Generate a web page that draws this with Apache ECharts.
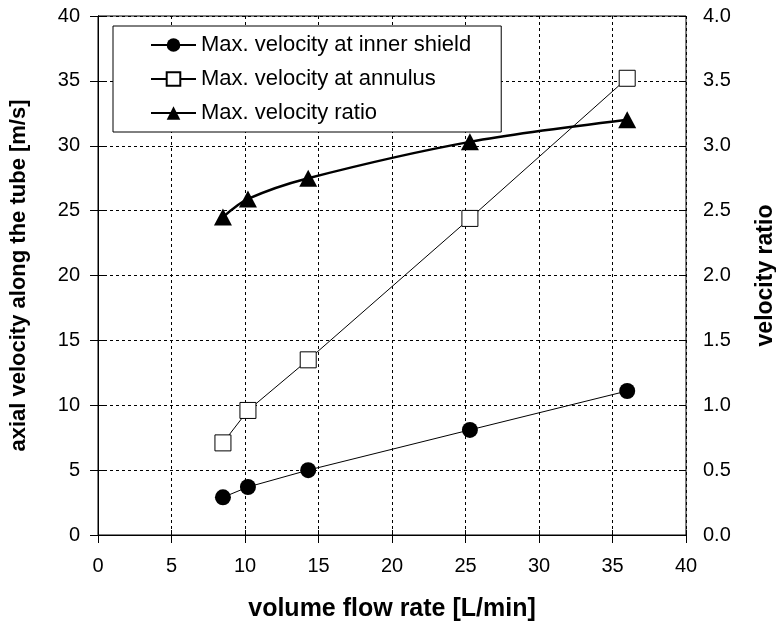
<!DOCTYPE html>
<html>
<head>
<meta charset="utf-8">
<script src="https://cdn.jsdelivr.net/npm/echarts@6/dist/echarts.min.js"></script>
<style>
html,body{margin:0;padding:0;background:#fff;}
#chart{width:776px;height:629px;}
</style>
</head>
<body>
<div id="chart"></div>
<script>
var flowRate = [8.5, 10.2, 14.3, 25.3, 36.0];
var innerShield = [2.9, 3.7, 5.0, 8.1, 11.1];
var annulus = [7.1, 9.6, 13.5, 24.4, 35.2];
var ratio = [2.45, 2.59, 2.75, 3.03, 3.2];
var seriesNames = ['Max. velocity at inner shield', 'Max. velocity at annulus', 'Max. velocity ratio'];
var xTitle = 'volume flow rate [L/min]';
var yLeftTitle = 'axial velocity along the tube [m/s]';
var yRightTitle = 'velocity ratio';

function pairs(xs, ys) { return xs.map(function (x, i) { return [x, ys[i]]; }); }

var FONT = 'Arial, "Liberation Sans", sans-serif';
var chart = echarts.init(document.getElementById('chart'), null, {renderer: 'canvas'});
var dashed = {show: true, lineStyle: {color: '#000', width: 1, type: [3, 3]}};
var axisLineStyle = {show: true, lineStyle: {color: '#000', width: 1}};
chart.setOption({
  backgroundColor: '#fff',
  animation: false,
  grid: {left: 98, right: 90, top: 16, bottom: 94, outerBoundsMode: 'none', containLabel: false,
    show: true, borderColor: '#000', borderWidth: 1, backgroundColor: 'transparent'},
  legend: {
    orient: 'vertical', left: 113, top: 26,
    backgroundColor: '#fff', borderColor: '#000', borderWidth: 1,
    padding: [8, 30, 8, 37], itemGap: 12, itemWidth: 45, itemHeight: 17,
    textStyle: {fontFamily: FONT, fontSize: 22, color: '#000'},
    data: seriesNames
  },
  xAxis: [{
    type: 'value', min: 0, max: 40, interval: 5,
    axisLine: axisLineStyle,
    axisTick: {show: true, inside: false, length: 8, lineStyle: {color: '#000'}},
    axisLabel: {fontFamily: FONT, fontSize: 20, color: '#000', margin: 21},
    splitLine: dashed,
    name: xTitle, nameLocation: 'middle', nameGap: 62,
    nameTextStyle: {fontFamily: FONT, fontSize: 25, fontWeight: 'bold', color: '#000'}
  }, {
    type: 'value', min: 0, max: 40, interval: 5, position: 'bottom',
    axisLine: {show: false}, axisTick: {show: true, inside: true, length: 5, lineStyle: {color: '#000'}},
    axisLabel: {show: false}, splitLine: {show: false}
  }],
  yAxis: [{
    type: 'value', min: 0, max: 40, interval: 5, position: 'left',
    axisLine: axisLineStyle,
    axisTick: {show: true, inside: false, length: 8, lineStyle: {color: '#000'}},
    axisLabel: {fontFamily: FONT, fontSize: 20, color: '#000', margin: 18},
    splitLine: dashed,
    name: yLeftTitle, nameLocation: 'middle', nameGap: 68, nameRotate: 90,
    nameTextStyle: {fontFamily: FONT, fontSize: 22, fontWeight: 'bold', color: '#000'}
  }, {
    type: 'value', min: 0, max: 4, interval: 0.5, position: 'right',
    axisLine: axisLineStyle,
    axisTick: {show: true, inside: false, length: 7, lineStyle: {color: '#000'}},
    axisLabel: {fontFamily: FONT, fontSize: 20, color: '#000', margin: 17,
      formatter: function (v) { return v.toFixed(1); }},
    splitLine: {show: false},
    name: yRightTitle, nameLocation: 'middle', nameGap: 68, nameRotate: 90,
    nameTextStyle: {fontFamily: FONT, fontSize: 23, fontWeight: 'bold', color: '#000'}
  }, {
    type: 'value', min: 0, max: 4, interval: 0.5, position: 'right',
    axisLine: {show: false},
    axisTick: {show: true, inside: true, length: 7, lineStyle: {color: '#000'}},
    axisLabel: {show: false}, splitLine: {show: false}
  }],
  series: [{
    name: seriesNames[0], type: 'line', xAxisIndex: 0, yAxisIndex: 0,
    data: pairs(flowRate, innerShield),
    symbol: 'circle', symbolSize: 16,
    itemStyle: {color: '#000'}, lineStyle: {color: '#000', width: 1}, z: 3
  }, {
    name: seriesNames[1], type: 'line', xAxisIndex: 0, yAxisIndex: 0,
    data: pairs(flowRate, annulus),
    symbol: 'rect', symbolSize: 16,
    itemStyle: {color: '#fff', borderColor: '#000', borderWidth: 1}, lineStyle: {color: '#000', width: 1}, z: 3
  }, {
    name: seriesNames[2], type: 'line', xAxisIndex: 0, yAxisIndex: 1,
    data: pairs(flowRate, ratio), smooth: 0.3,
    symbol: 'triangle', symbolSize: [18, 17],
    itemStyle: {color: '#000'}, lineStyle: {color: '#000', width: 2.5}, z: 4
  }]
});
</script>
</body>
</html>
